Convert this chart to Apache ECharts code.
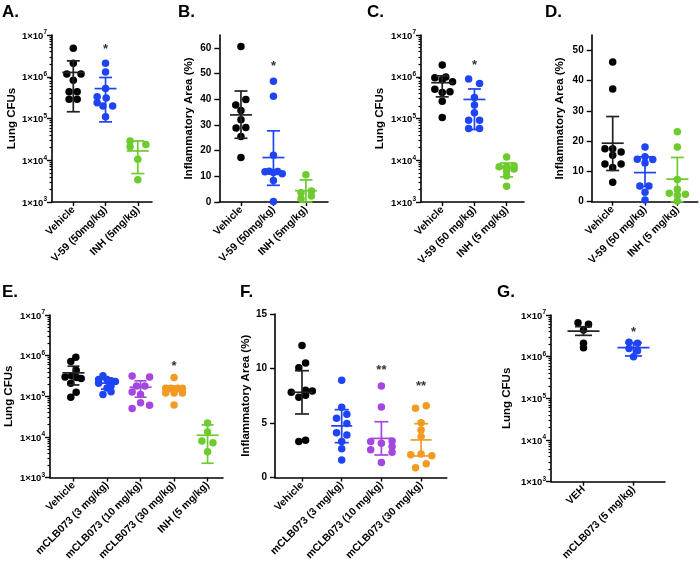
<!DOCTYPE html>
<html><head><meta charset="utf-8">
<script src="https://cdn.jsdelivr.net/npm/echarts@6/dist/echarts.min.js"></script>
<style>html,body{margin:0;padding:0;background:#fff}#c{width:700px;height:563px}</style>
</head><body><div id="c"></div>
<script>
// ================= DATA =================
// Panel A
const catsA = ['Vehicle', 'V-59 (50mg/kg)', 'INH (5mg/kg)'];
const A_vehicle = [4.8e6, 2.1e6, 1.16e6, 1.16e6, 8.3e5, 4.4e5, 4.4e5, 2.9e5, 2.9e5];
const A_v59 = [2.1e6, 1.3e6, 5.2e5, 3.3e5, 3.1e5, 2.4e5, 2.0e5, 2.0e5, 1.1e5];
const A_inh = [2.9e4, 2.4e4, 2.1e4, 1.06e4, 3.4e3];
const A_mean = [1.27e6, 5.2e5, 1.67e4];
const A_low = [1.45e5, 8.3e4, 4.8e3];
const A_high = [2.4e6, 9.6e5, 2.9e4];
const A_sig = ['', '*', ''];
const A_sigY = [null, 5.2e6, null];

// Panel B
const catsB = ['Vehicle', 'V-59 (50mg/kg)', 'INH (5mg/kg)'];
const B_vehicle = [60.5, 39.9, 37.8, 35.6, 32.0, 28.8, 29.0, 25.5, 17.3];
const B_v59 = [47.0, 41.2, 18.2, 11.8, 12.0, 11.5, 11.9, 11.0, 8.4, 0.2];
const B_inh = [10.6, 3.6, 4.3, 1.3, 2.3];
const B_mean = [33.9, 17.3, 4.4];
const B_low = [24.8, 6.5, 0];
const B_high = [43.2, 27.7, 8.6];
const B_sig = ['', '*', ''];
const B_sigY = [null, 53.9, null];

// Panel C
const catsC = ['Vehicle', 'V-59 (50 mg/kg)', 'INH (5 mg/kg)'];
const C_vehicle = [1.9e6, 9.5e5, 9.8e5, 8.5e5, 7.6e5, 5.0e5, 4.4e5, 4.2e5, 2.6e5, 1.06e5];
const C_v59 = [8.8e5, 6.9e5, 3.2e5, 2.1e5, 1.37e5, 9.1e4, 9.1e4, 5.75e4, 5.75e4];
const C_inh = [1.2e4, 7.0e3, 7.0e3, 7.4e3, 5.5e3, 6.2e3, 4.2e3, 2.4e3];
const C_mean = [7.2e5, 2.86e5, 6.5e3];
const C_low = [3.3e5, 5.45e4, 4.0e3];
const C_high = [1.05e6, 5.1e5, 8.6e3];
const C_sig = ['', '*', ''];
const C_sigY = [null, 2.2e6, null];

// Panel D
const catsD = ['Vehicle', 'V-59 (50 mg/kg)', 'INH (5 mg/kg)'];
const D_vehicle = [46.1, 37.2, 17.5, 17.5, 16.4, 15.3, 12.4, 12.4, 11.3, 6.4];
const D_v59 = [18.05, 14.0, 14.8, 13.9, 12.8, 5.15, 5.15, 3.08, 0.56];
const D_inh = [23.1, 18.05, 7.35, 4.07, 2.76, 2.43, 2.1, 0.23];
const D_mean = [19.3, 9.6, 7.45];
const D_low = [10.3, 5.0, 0];
const D_high = [28.1, 14.8, 14.6];
const D_sig = ['', '', ''];
const D_sigY = [null, null, null];

// Panel E
const catsE = ['Vehicle', 'mCLB073 (3 mg/kg)', 'mCLB073 (10 mg/kg)', 'mCLB073 (30 mg/kg)', 'INH (5 mg/kg)'];
const E_vehicle = [9.1e5, 7.2e5, 4.4e5, 3.2e5, 3.0e5, 2.9e5, 2.75e5, 2.1e5, 1.26e5, 9.5e4];
const E_m3 = [3.2e5, 2.6e5, 2.6e5, 2.4e5, 2.3e5, 2.1e5, 1.8e5, 1.6e5, 1.3e5, 1.1e5];
const E_m10 = [3.16e5, 3.0e5, 1.8e5, 1.8e5, 1.27e5, 1.1e5, 6.9e4, 6.0e4, 5.0e4];
const E_m30 = [2.88e5, 1.58e5, 1.58e5, 1.58e5, 1.58e5, 1.2e5, 1.2e5, 1.2e5, 6.1e4];
const E_inh = [2.2e4, 1.32e4, 7.9e3, 7.2e3, 4.3e3];
const E_mean = [3.77e5, 2.1e5, 1.67e5, 1.55e5, 1.1e4];
const E_low = [1.9e5, 1.5e5, 9.5e4, 1.32e5, 2.25e3];
const E_high = [5.5e5, 2.6e5, 2.4e5, 1.8e5, 1.98e4];
const E_sig = ['', '', '', '*', ''];
const E_sigY = [null, null, null, 6.3e5, null];

// Panel F
const catsF = ['Vehicle', 'mCLB073 (3 mg/kg)', 'mCLB073 (10 mg/kg)', 'mCLB073 (30 mg/kg)'];
const F_vehicle = [12.1, 10.5, 10.06, 7.82, 8.0, 7.94, 7.37, 7.55, 3.3, 3.41];
const F_m3 = [8.93, 6.44, 5.81, 5.45, 4.95, 4.1, 3.9, 3.3, 2.64, 1.62];
const F_m10 = [8.39, 6.47, 3.3, 3.15, 3.36, 2.55, 2.85, 2.31, 1.38];
const F_m30 = [6.35, 6.59, 5.03, 4.35, 3.77, 2.1, 2.16, 2.01, 1.26, 0.9];
const F_mean = [7.82, 4.74, 3.59, 3.45];
const F_low = [5.83, 3.2, 2.07, 1.98];
const F_high = [9.8, 6.23, 5.12, 4.94];
const F_sig = ['', '', '**', '**'];
const F_sigY = [null, null, 10.1, 8.6];

// Panel G
const catsG = ['VEH', 'mCLB073 (5 mg/kg)'];
const G_veh = [6.55e6, 5.97e6, 4.37e6, 2.09e6, 1.64e6];
const G_mclb = [2.21e6, 2.09e6, 1.56e6, 1.39e6, 1.0e6];
const G_mean = [4.1e6, 1.65e6];
const G_low = [3.25e6, 1.04e6];
const G_high = [5.25e6, 2.17e6];
const G_sig = ['', '*'];
const G_sigY = [null, 4.5e6];

// ================= LAYOUT / STYLE =================
const FONT = 'Arial, "Liberation Sans", Helvetica, sans-serif';
const COL = { black: '#000000', blue: '#1f44f6', green: '#6dcb2e', purple: '#a646e0', orange: '#f29b24' };

// horizontal jitter (in category units) for the dots of each group
const J = {
  A: [[0, 0, -0.2, 0.24, 0, -0.13, 0.12, -0.13, 0.12],
      [0, 0, 0, -0.26, 0.02, -0.26, -0.08, 0.22, 0],
      [-0.24, 0.25, -0.24, 0, 0]],
  B: [[0, 0.15, -0.16, 0, 0, -0.15, 0.15, 0, 0],
      [0, 0, 0, -0.26, -0.13, 0, 0.13, 0.27, 0, 0],
      [0, -0.15, 0.17, -0.15, 0.17]],
  C: [[0, -0.23, 0.11, 0, 0.32, -0.23, 0.24, 0, 0, 0],
      [-0.18, 0.16, 0, 0, 0, -0.18, 0.16, -0.18, 0.16],
      [0, -0.23, 0, 0.23, 0, 0.23, 0, 0]],
  D: [[0, 0, -0.24, 0, 0.26, 0, -0.24, 0.26, 0, 0],
      [0, -0.24, 0, 0.24, 0, -0.16, 0.12, 0, 0],
      [0, 0, 0, 0, -0.25, 0.25, 0, 0]],
  E: [[0.07, -0.08, 0.08, -0.05, -0.25, 0.1, 0.23, -0.08, 0.08, -0.08],
      [-0.12, -0.25, 0, 0.12, 0.25, -0.25, 0.12, 0, 0.12, -0.12],
      [-0.25, 0.27, -0.12, 0.13, -0.25, 0, 0, 0.27, -0.25],
      [0, -0.25, -0.1, 0.12, 0.25, -0.25, 0, 0.25, 0],
      [0, 0, -0.17, 0.16, 0]],
  F: [[0, 0.09, -0.08, -0.27, 0.09, 0.26, -0.08, 0.09, -0.08, 0.09],
      [0, 0, 0.13, -0.13, 0.13, -0.13, 0.13, 0, 0, 0],
      [0, 0, -0.27, 0, 0.27, -0.27, 0.27, 0.27, 0],
      [-0.14, 0.13, 0, 0, 0, -0.26, 0, 0.27, 0.13, -0.14]],
  G: [[-0.11, 0.1, 0, 0, 0],
      [-0.09, 0.08, -0.09, 0.08, 0]]
};

const panels = [
  { id: 'A', label: 'A.', lx: 2, ly: 12.5, grid: { left: 52, top: 35, width: 100, height: 167 }, xr: [-0.66, 2.44],
    cats: catsA, groups: [A_vehicle, A_v59, A_inh], colors: [COL.black, COL.blue, COL.green],
    mean: A_mean, low: A_low, high: A_high, sig: A_sig, sigY: A_sigY,
    yType: 'log', yName: 'Lung CFUs', nameGap: 34, mhw: 11, chw: 6.5 },
  { id: 'B', label: 'B.', lx: 178, ly: 12.5, grid: { left: 219.3, top: 35, width: 108.7, height: 167 }, xr: [-0.667, 2.68],
    cats: catsB, groups: [B_vehicle, B_v59, B_inh], colors: [COL.black, COL.blue, COL.green],
    mean: B_mean, low: B_low, high: B_high, sig: B_sig, sigY: B_sigY,
    yType: 'value', yMax: 65, yTicks: [0, 10, 20, 30, 40, 50, 60], yName: 'Inflammatory Area (%)', nameGap: 24, mhw: 11, chw: 6.5 },
  { id: 'C', label: 'C.', lx: 367, ly: 12.5, grid: { left: 421, top: 35, width: 103, height: 167 }, xr: [-0.66, 2.54],
    cats: catsC, groups: [C_vehicle, C_v59, C_inh], colors: [COL.black, COL.blue, COL.green],
    mean: C_mean, low: C_low, high: C_high, sig: C_sig, sigY: C_sigY,
    yType: 'log', yName: 'Lung CFUs', nameGap: 35, mhw: 11, chw: 6.5 },
  { id: 'D', label: 'D.', lx: 545, ly: 12.5, grid: { left: 591.7, top: 35, width: 106, height: 166.7 }, xr: [-0.65, 2.63],
    cats: catsD, groups: [D_vehicle, D_v59, D_inh], colors: [COL.black, COL.blue, COL.green],
    mean: D_mean, low: D_low, high: D_high, sig: D_sig, sigY: D_sigY,
    yType: 'value', yMax: 55, yTicks: [0, 10, 20, 30, 40, 50], yName: 'Inflammatory Area (%)', nameGap: 26, mhw: 11, chw: 6.5 },
  { id: 'E', label: 'E.', lx: 2, ly: 292.5, grid: { left: 50, top: 315, width: 173, height: 167 }, xr: [-0.7, 4.46],
    cats: catsE, groups: [E_vehicle, E_m3, E_m10, E_m30, E_inh], colors: [COL.black, COL.blue, COL.purple, COL.orange, COL.green],
    mean: E_mean, low: E_low, high: E_high, sig: E_sig, sigY: E_sigY,
    yType: 'log', yName: 'Lung CFUs', nameGap: 35, mhw: 11, chw: 6 },
  { id: 'F', label: 'F.', lx: 240, ly: 292.5, grid: { left: 275, top: 314, width: 171.7, height: 166.7 }, xr: [-0.68, 3.645],
    cats: catsF, groups: [F_vehicle, F_m3, F_m10, F_m30], colors: [COL.black, COL.blue, COL.purple, COL.orange],
    mean: F_mean, low: F_low, high: F_high, sig: F_sig, sigY: F_sigY,
    yType: 'value', yMax: 15, yTicks: [0, 5, 10, 15], yName: 'Inflammatory Area (%)', nameGap: 18, mhw: 10.5, chw: 7 },
  { id: 'G', label: 'G.', lx: 497, ly: 292.5, grid: { left: 551, top: 315, width: 114, height: 167 }, xr: [-0.65, 1.63],
    cats: catsG, groups: [G_veh, G_mclb], colors: [COL.black, COL.blue],
    mean: G_mean, low: G_low, high: G_high, sig: G_sig, sigY: G_sigY,
    yType: 'log', yName: 'Lung CFUs', nameGap: 38, mhw: 16, chw: 8.5 }
];

// minor tick positions for log axes (in log10 space)
const logMinor = [];
for (let n = 3; n < 7; n++) for (let k = 2; k < 10; k++) logMinor.push(Math.log10(k * Math.pow(10, n)));

const grids = [], xAxes = [], yAxes = [], series = [], graphics = [];
const AXLINE = { color: '#000', width: 1.6 };

panels.forEach((p, pi) => {
  grids.push(Object.assign({ containLabel: false }, p.grid));
  const xi = xAxes.length;
  const idx = p.cats.map((_, i) => i);
  xAxes.push({
    type: 'value', gridIndex: pi, min: p.xr[0], max: p.xr[1], position: 'bottom',
    axisLine: { show: true, onZero: false, lineStyle: AXLINE },
    axisTick: { show: true, length: 4, customValues: idx, lineStyle: { width: 1.4, color: '#000' } },
    axisLabel: { customValues: idx, rotate: 45, margin: 6, fontSize: 10.5, fontWeight: 'bold', fontFamily: FONT, color: '#000',
      formatter: v => p.cats[Math.round(v)] },
    splitLine: { show: false }
  });
  const yi = yAxes.length;
  if (p.yType === 'log') {
    yAxes.push({
      type: 'log', logBase: 10, gridIndex: pi, min: 1e3, max: 1e7, position: 'left',
      name: p.yName, nameLocation: 'middle', nameGap: p.nameGap, nameRotate: 90,
      nameTextStyle: { fontSize: 11.5, fontWeight: 'bold', fontFamily: FONT, color: '#000' },
      axisLine: { show: true, onZero: false, lineStyle: AXLINE },
      axisTick: { show: true, length: 5, lineStyle: { width: 1.4, color: '#000' } },
      axisLabel: { margin: 5, color: '#000', fontFamily: FONT,
        formatter: v => '{n|1×10}{s|' + Math.round(Math.log10(v)) + '}',
        rich: { n: { fontSize: 9.5, fontWeight: 'bold', fontFamily: FONT, color: '#000', lineHeight: 12, verticalAlign: 'bottom' },
                s: { fontSize: 6.5, fontWeight: 'bold', fontFamily: FONT, color: '#000', lineHeight: 7, verticalAlign: 'top' } } },
      splitLine: { show: false }
    });
    yAxes.push({
      type: 'value', gridIndex: pi, min: 3, max: 7, position: 'left',
      axisLine: { show: false, onZero: false },
      axisTick: { show: true, length: 2.5, customValues: logMinor, lineStyle: { width: 1.2, color: '#000' } },
      axisLabel: { show: false }, splitLine: { show: false }
    });
  } else {
    yAxes.push({
      type: 'value', gridIndex: pi, min: 0, max: p.yMax, position: 'left',
      name: p.yName, nameLocation: 'middle', nameGap: p.nameGap, nameRotate: 90,
      nameTextStyle: { fontSize: 11.5, fontWeight: 'bold', fontFamily: FONT, color: '#000' },
      axisLine: { show: true, onZero: false, lineStyle: AXLINE },
      axisTick: { show: true, length: 5, customValues: p.yTicks, lineStyle: { width: 1.4, color: '#000' } },
      axisLabel: { customValues: p.yTicks, margin: 8, fontSize: 10, fontWeight: 'bold', fontFamily: FONT, color: '#000' },
      splitLine: { show: false }
    });
  }
  // dots
  p.groups.forEach((vals, g) => {
    const jit = J[p.id][g];
    series.push({
      type: 'scatter', xAxisIndex: xi, yAxisIndex: yi, symbol: 'circle', symbolSize: 7.5,
      itemStyle: { color: p.colors[g], opacity: 1 }, z: 3, silent: true,
      data: vals.map((v, k) => [g + (jit[k] || 0), v])
    });
  });
  // mean ± SD bars
  const mhw = p.mhw, chw = p.chw, colors = p.colors;
  series.push({
    type: 'custom', xAxisIndex: xi, yAxisIndex: yi, z: 4, silent: true,
    data: p.mean.map((m, g) => [g, m, p.low[g], p.high[g]]),
    renderItem: (params, api) => {
      const g = api.value(0);
      const pm = api.coord([g, api.value(1)]);
      const pl = api.coord([g, api.value(2)]);
      const ph = api.coord([g, api.value(3)]);
      const c = colors[params.dataIndex];
      const st = { stroke: c === '#000000' ? '#222' : c, lineWidth: 1.7 };
      return { type: 'group', children: [
        { type: 'line', shape: { x1: pm[0], y1: pl[1], x2: pm[0], y2: ph[1] }, style: st },
        { type: 'line', shape: { x1: pm[0] - mhw, y1: pm[1], x2: pm[0] + mhw, y2: pm[1] }, style: st },
        { type: 'line', shape: { x1: pm[0] - chw, y1: pl[1], x2: pm[0] + chw, y2: pl[1] }, style: st },
        { type: 'line', shape: { x1: pm[0] - chw, y1: ph[1], x2: pm[0] + chw, y2: ph[1] }, style: st }
      ] };
    }
  });
  // significance marks
  const sigData = [];
  p.sig.forEach((s, g) => { if (s) sigData.push([g, p.sigY[g], s]); });
  if (sigData.length) {
    series.push({
      type: 'custom', xAxisIndex: xi, yAxisIndex: yi, z: 5, silent: true,
      data: sigData,
      renderItem: (params, api) => {
        const pt = api.coord([api.value(0), api.value(1)]);
        return { type: 'text', x: pt[0], y: pt[1] + 3,
          style: { text: sigData[params.dataIndex][2], fill: '#333', font: 'bold 13px ' + FONT, align: 'center', verticalAlign: 'middle' } };
      }
    });
  }
  graphics.push({ type: 'text', left: p.lx, top: p.ly - 9,
    style: { text: p.label, fill: '#000', font: 'bold 17px ' + FONT } });
});

const chart = echarts.init(document.getElementById('c'), null, { renderer: 'canvas' });
chart.setOption({
  animation: false,
  backgroundColor: '#fff',
  grid: grids, xAxis: xAxes, yAxis: yAxes, series: series, graphic: graphics
});
</script>
</body></html>
